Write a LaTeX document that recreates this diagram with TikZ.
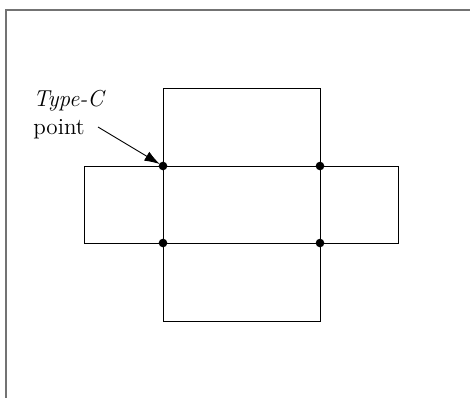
\documentclass[tikz,border=0pt]{standalone}
\usetikzlibrary{arrows.meta}
\begin{document}
\begin{tikzpicture}[x=0.625pt,y=-0.625pt,
  face/.style={draw=black,line width=0.5pt},
  corner/.style={circle,fill=black,inner sep=0pt,minimum size=5.4pt},
  frame/.style={draw=black!55,line width=0.8pt},
  pointer/.style={-{Latex[length=9.5pt,width=6.5pt]},line width=0.55pt,shorten >=-0.5pt}]
  \useasboundingbox (0,0) rectangle (470,397);
  \clip (0,0) rectangle (470,397);
  % outer frame (runs past the right and bottom edges)
  \draw[frame] (6,10) rectangle (490,420);
  % unfolded box: centre face with four flaps
  \draw[face] (163,166) rectangle (320,243);
  \draw[face] (163,88) rectangle (320,166);
  \draw[face] (163,243) rectangle (320,321);
  \draw[face] (84,166) rectangle (163,243);
  \draw[face] (320,166) rectangle (398,243);
  % corner points of the centre face
  \node[corner] (c1) at (163,166) {};
  \node[corner] (c2) at (320,166) {};
  \node[corner] (c3) at (163,243) {};
  \node[corner] (c4) at (320,243) {};
  % label and pointer
  \node[align=left,anchor=north west,inner sep=0pt,font=\Large] (lbl) at (33,89.5) {\textit{Type-C}\\point};
  \coordinate (tail) at (98,127);
  \draw[pointer] (tail) -- (c1);
\end{tikzpicture}
\end{document}
